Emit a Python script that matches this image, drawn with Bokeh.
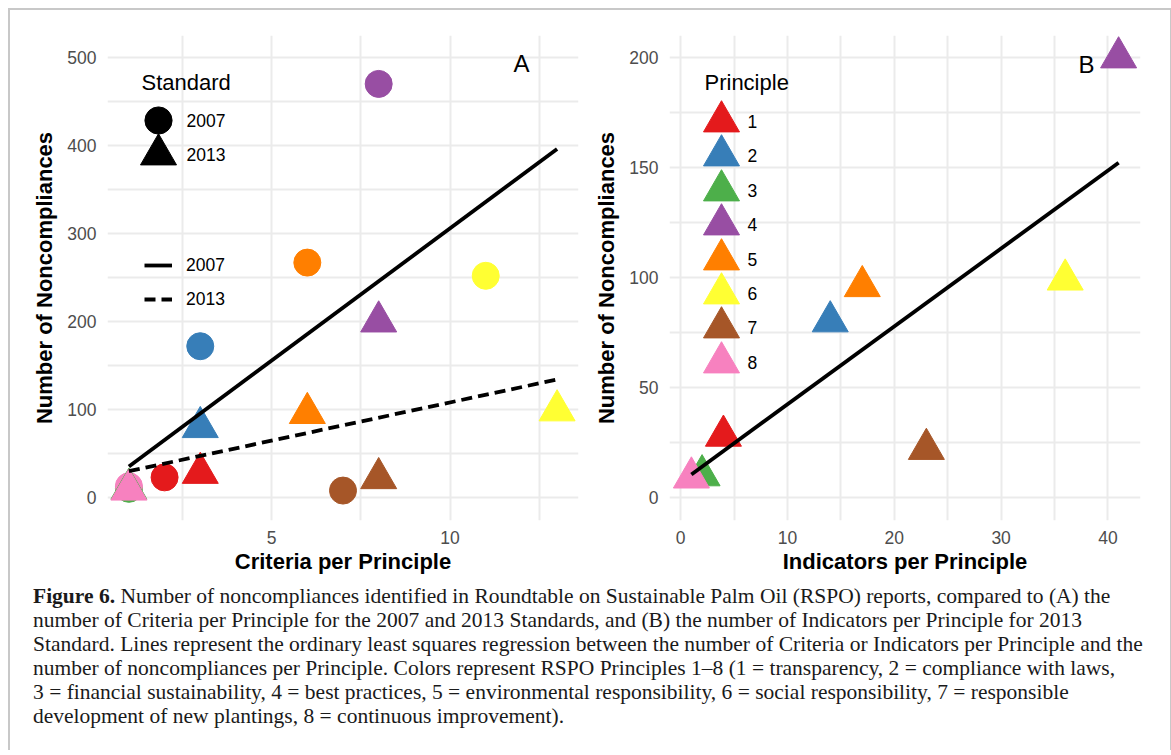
import numpy as np
from bokeh.plotting import figure
from bokeh.models import (ColumnDataSource, Range1d, FixedTicker, Legend, LegendItem,
                          Label, Div)
from bokeh.layouts import row, column
from bokeh.embed import file_html
from bokeh.resources import INLINE

# ---------------- data ----------------
principles = ["1", "2", "3", "4", "5", "6", "7", "8"]
principle_colors = ["#E41A1C", "#377EB8", "#4DAF4A", "#984EA3",
                    "#FF7F00", "#FFFF33", "#A65628", "#F781BF"]
standards = ["2007", "2013"]
criteria_2007 = [2, 3, 1, 8, 6, 11, 7, 1]
noncomp_2007 = [23, 172, 10, 470, 267, 252, 8, 13]
criteria_2013 = [3, 3, 1, 8, 6, 13, 8, 1]
noncomp_2013 = [28, 80, 10, 200, 96, 99, 22, 9]
indicators_2013 = [4, 14, 2, 41, 17, 36, 23, 1]

a_x_ticks = [5, 10]
a_x_minor = [2.5, 7.5, 12.5]
a_y_ticks = [0, 100, 200, 300, 400, 500]
a_y_minor = [50, 150, 250, 350, 450]
b_x_ticks = [0, 10, 20, 30, 40]
b_x_minor = [5, 15, 25, 35]
b_y_ticks = [0, 50, 100, 150, 200]
b_y_minor = [25, 75, 125, 175]

FONT = "Liberation Sans"
GRID = "#EBEBEB"
FRAME_H = 485          # plot-panel height in px (both panels)
LEG_PITCH = 34.4       # legend row pitch in px
CIRCLE_KEY = 68        # legend glyph box -> marker size 0.4*box
TRIANGLE_KEY = 90


def style(p, xt, xm, yt, ym, xlabel, ylabel):
    p.xaxis.ticker = FixedTicker(ticks=xt, minor_ticks=xm)
    p.yaxis.ticker = FixedTicker(ticks=yt, minor_ticks=ym)
    for g in (p.xgrid, p.ygrid):
        g.grid_line_color = GRID
        g.grid_line_width = 2
        g.minor_grid_line_color = GRID
        g.minor_grid_line_width = 2
    for ax in (p.xaxis, p.yaxis):
        ax.axis_line_color = None
        ax.major_tick_line_color = None
        ax.minor_tick_line_color = None
        ax.major_tick_out = 0
        ax.major_tick_in = 0
        ax.minor_tick_out = 0
        ax.major_label_text_font = FONT
        ax.major_label_text_font_size = "17.5px"
        ax.major_label_text_color = "#4D4D4D"
        ax.axis_label_text_font = FONT
        ax.axis_label_text_font_size = "22px"
        ax.axis_label_text_font_style = "bold"
        ax.axis_label_text_color = "#000000"
    p.xaxis.axis_label = xlabel
    p.yaxis.axis_label = ylabel
    p.xaxis.major_label_standoff = 10
    p.xaxis.axis_label_standoff = 2
    p.yaxis.major_label_standoff = 11
    p.yaxis.axis_label_standoff = 7
    p.outline_line_color = None
    p.background_fill_color = "white"
    p.border_fill_color = "white"


def key_legend(renderer, cx, cy_top, box, index=None):
    """One legend key (glyph only) centred at (cx, cy_top) px from the panel's top-left."""
    item = LegendItem(label="", renderers=[renderer]) if index is None else \
        LegendItem(label="", renderers=[renderer], index=index)
    return Legend(items=[item], location=(cx - box / 2, FRAME_H - cy_top - box / 2),
                  glyph_width=box, glyph_height=box, label_standoff=0, padding=0, margin=0,
                  spacing=0, label_width=0, border_line_color=None, background_fill_alpha=0,
                  label_text_font_size="1px")


def key_text(text, x_left, cy_top, size="17.5px"):
    return Label(x=x_left, y=FRAME_H - cy_top, x_units="screen", y_units="screen", text=text,
                 text_font=FONT, text_font_size=size, text_baseline="middle",
                 text_color="#000000")


# ---------------- panel A ----------------
srcA07 = ColumnDataSource(dict(x=criteria_2007, y=noncomp_2007, c=principle_colors))
srcA13 = ColumnDataSource(dict(x=criteria_2013, y=noncomp_2013, c=principle_colors))

pA = figure(width=580, height=572, x_range=Range1d(0.4, 13.6), y_range=Range1d(-26, 525),
            output_backend="svg", toolbar_location=None,
            min_border_left=97, min_border_right=12, min_border_top=25, min_border_bottom=62)
style(pA, a_x_ticks, a_x_minor, a_y_ticks, a_y_minor,
      "Criteria per Principle", "Number of Noncompliances")

pA.scatter(x="x", y="y", source=srcA07, marker="circle", size=27,
           fill_color="c", line_color="c")
pA.scatter(x="x", y="y", source=srcA13, marker="triangle", size=36,
           fill_color="c", line_color="c")

xa_all = criteria_2007 + criteria_2013
xa_line = [min(xa_all), max(xa_all)]
m07, b07 = np.polyfit(criteria_2007, noncomp_2007, 1)
m13, b13 = np.polyfit(criteria_2013, noncomp_2013, 1)
l07 = pA.line(x=xa_line, y=[m07 * v + b07 for v in xa_line], line_color="black", line_width=3.8)
l13 = pA.line(x=xa_line, y=[m13 * v + b13 for v in xa_line], line_color="black", line_width=3.8,
              line_dash="11 6")

# legend keys (renderers hold no visible point)
key_c = pA.scatter(x=[np.nan], y=[np.nan], marker="circle", size=27,
                   fill_color="black", line_color="black")
key_t = pA.scatter(x=[np.nan], y=[np.nan], marker="triangle", size=36,
                   fill_color="black", line_color="black")

pA.add_layout(key_text("Standard", 34, 47, "22px"))
pA.add_layout(key_legend(key_c, 51, 85, CIRCLE_KEY))
pA.add_layout(key_legend(key_t, 51, 85 + LEG_PITCH, TRIANGLE_KEY))
pA.add_layout(key_text(standards[0], 79, 85))
pA.add_layout(key_text(standards[1], 79, 85 + LEG_PITCH))
pA.add_layout(Legend(items=[LegendItem(label=standards[0], renderers=[l07]),
                            LegendItem(label=standards[1], renderers=[l13])],
                     location=(37, 204), glyph_width=28, glyph_height=34, label_standoff=14,
                     spacing=0, padding=0, margin=0, label_height=20, border_line_color=None,
                     background_fill_alpha=0, label_text_font=FONT,
                     label_text_font_size="17.5px", label_text_color="#000000"))
pA.add_layout(Label(x=12, y=493, text="A", text_font=FONT, text_font_size="24px",
                    text_align="center", text_baseline="middle", text_color="#000000"))

# ---------------- panel B ----------------
srcB = ColumnDataSource(dict(x=indicators_2013, y=noncomp_2013, c=principle_colors))
pB = figure(width=570, height=572, x_range=Range1d(-1.05, 43.05), y_range=Range1d(-10.5, 210),
            output_backend="svg", toolbar_location=None,
            min_border_left=79, min_border_right=20, min_border_top=25, min_border_bottom=62)
style(pB, b_x_ticks, b_x_minor, b_y_ticks, b_y_minor,
      "Indicators per Principle", "Number of Noncompliances")

rB = pB.scatter(x="x", y="y", source=srcB, marker="triangle", size=36,
                fill_color="c", line_color="c")
xb_line = [min(indicators_2013), max(indicators_2013)]
mB, bB = np.polyfit(indicators_2013, noncomp_2013, 1)
pB.line(x=xb_line, y=[mB * v + bB for v in xb_line], line_color="black", line_width=3.8)

pB.add_layout(key_text("Principle", 35, 47, "22px"))
for i, lab in enumerate(principles):
    cy = 86 + LEG_PITCH * i
    pB.add_layout(key_legend(rB, 52, cy, TRIANGLE_KEY, index=i))
    pB.add_layout(key_text(lab, 78, cy))
pB.add_layout(Label(x=38, y=197, text="B", text_font=FONT, text_font_size="24px",
                    text_align="center", text_baseline="middle", text_color="#000000"))

# ---------------- caption ----------------
caption_lines = [
    "<b>Figure 6.</b> Number of noncompliances identified in Roundtable on Sustainable Palm Oil (RSPO) reports, compared to (A) the",
    "number of Criteria per Principle for the 2007 and 2013 Standards, and (B) the number of Indicators per Principle for 2013",
    "Standard. Lines represent the ordinary least squares regression between the number of Criteria or Indicators per Principle and the",
    "number of noncompliances per Principle. Colors represent RSPO Principles 1\u20138 (1 = transparency, 2 = compliance with laws,",
    "3 = financial sustainability, 4 = best practices, 5 = environmental responsibility, 6 = social responsibility, 7 = responsible",
    "development of new plantings, 8 = continuous improvement).",
]
caption = Div(text=("<div style=\"font-family:'Liberation Serif'; font-size:21.5px; line-height:24px; "
                    "color:#1a1a1a; margin-top:-3px; padding:0 0 0 18px; white-space:nowrap;\">"
                    + "<br>".join(caption_lines) + "</div>"),
              width=1150, height=158)

layout = column(row(pA, pB), caption, margin=(8, 8, 0, 8),
                styles={"border-top": "2px solid #C8C8C8", "border-left": "2px solid #C8C8C8",
                        "border-right": "2px solid #C8C8C8", "background-color": "white"})

open("out.html", "w").write(file_html(layout, INLINE))
